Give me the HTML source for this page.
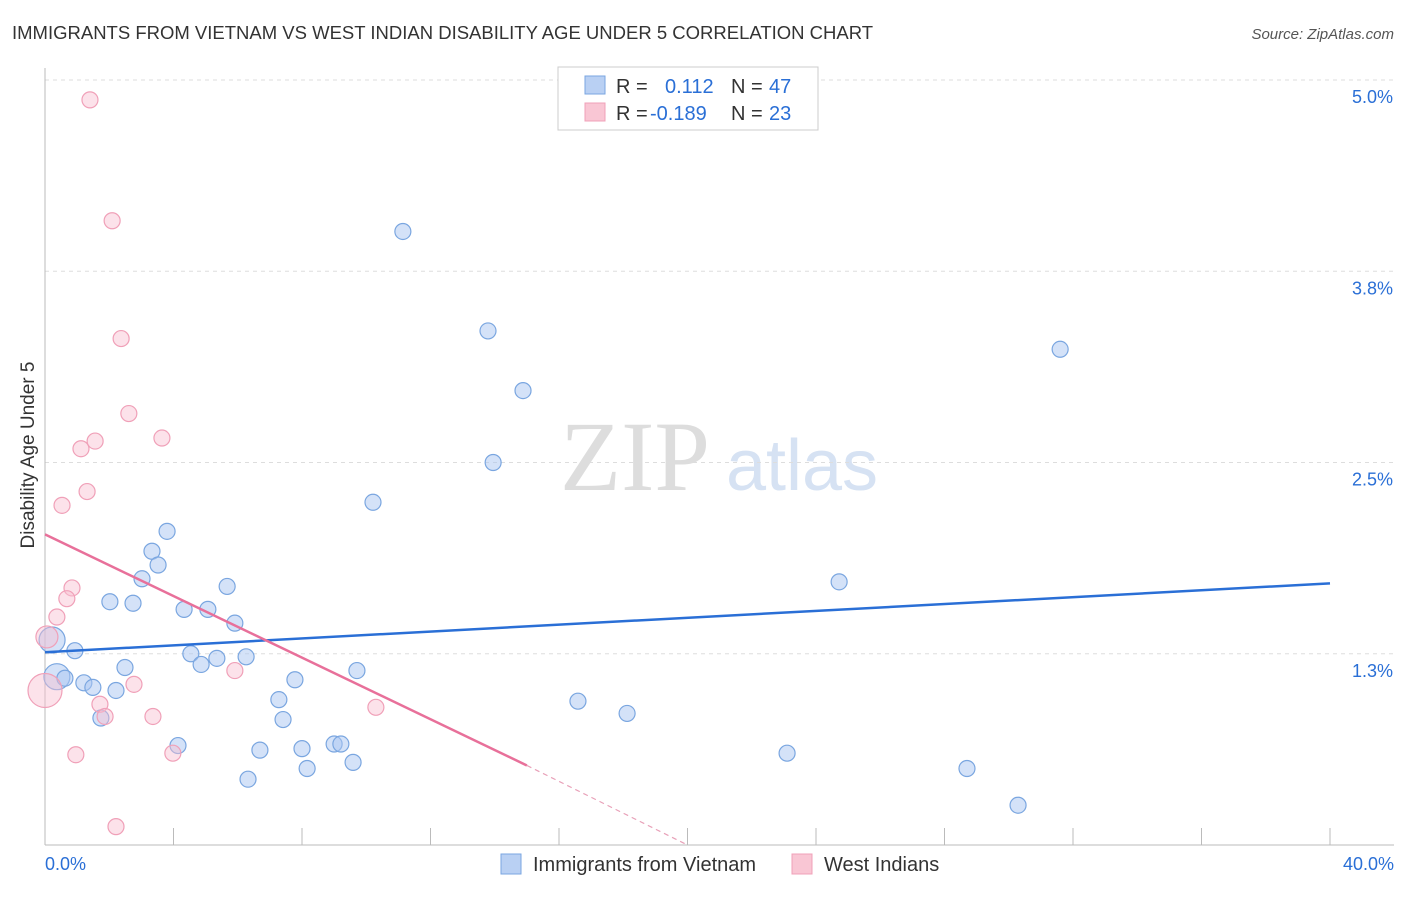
<!DOCTYPE html>
<html><head><meta charset="utf-8"><style>
body{margin:0;background:#fff;font-family:"Liberation Sans",sans-serif;}
</style></head><body>
<svg id="c" width="1406" height="892" font-family="Liberation Sans, sans-serif">
<text x="12" y="39" font-size="18.5" fill="#333">IMMIGRANTS FROM VIETNAM VS WEST INDIAN DISABILITY AGE UNDER 5 CORRELATION CHART</text>
<text x="1394" y="39" font-size="15" fill="#555" font-style="italic" text-anchor="end">Source: ZipAtlas.com</text>
<text transform="translate(34,455) rotate(-90)" font-size="19" fill="#333" text-anchor="middle">Disability Age Under 5</text>
<g><text x="635" y="490" font-size="100" fill="#ddd" style="font-family:'Liberation Serif',serif" text-anchor="middle">ZIP</text><text x="802" y="490" font-size="72" fill="#d6e2f3" text-anchor="middle">atlas</text></g>
<g id="grid"></g><g id="marks"></g>
<g>
<rect x="558" y="67" width="260" height="63" fill="#fff" stroke="#ccc"/>
<rect x="585" y="76" width="20" height="18" fill="#b9d0f3" stroke="#7aa6e0"/>
<rect x="585" y="103" width="20" height="18" fill="#f9c6d4" stroke="#f0a0b8"/>
<text x="616" y="93" font-size="20" fill="#333">R = <tspan x="665" fill="#2a6fd6">0.112</tspan><tspan x="731" fill="#333">N = </tspan><tspan x="769" fill="#2a6fd6">47</tspan></text>
<text x="616" y="120" font-size="20" fill="#333">R = <tspan x="650" fill="#2a6fd6">-0.189</tspan><tspan x="731" fill="#333">N = </tspan><tspan x="769" fill="#2a6fd6">23</tspan></text>
</g>
<g>
<rect x="501" y="854" width="20" height="20" fill="#b9d0f3" stroke="#7aa6e0"/>
<text x="533" y="871" font-size="20" fill="#333">Immigrants from Vietnam</text>
<rect x="792" y="854" width="20" height="20" fill="#f9c6d4" stroke="#f0a0b8"/>
<text x="824" y="871" font-size="20" fill="#333">West Indians</text>
</g>
</svg>
<script>
const yTicks=[1.25,2.5,3.75,5.0];
const yTickLabels=["1.3%","2.5%","3.8%","5.0%"];
const xTickLabels=["0.0%","40.0%"];
const blueX=[11.14,13.79,14.88,13.95,31.60,10.21,3.80,3.33,3.52,3.02,5.67,24.72,2.02,2.74,4.33,5.07,5.91,0.22,0.93,4.54,6.26,5.35,4.86,2.49,9.71,0.37,0.62,1.21,1.49,7.78,2.21,7.28,16.59,18.12,1.74,7.41,4.14,6.69,8.00,9.00,9.21,23.10,9.59,8.16,28.70,6.32,30.29];
const blueY=[4.01,3.36,2.97,2.50,3.24,2.24,2.05,1.92,1.83,1.74,1.69,1.72,1.59,1.58,1.54,1.54,1.45,1.34,1.27,1.25,1.23,1.22,1.18,1.16,1.14,1.10,1.09,1.06,1.03,1.08,1.01,0.95,0.94,0.86,0.83,0.82,0.65,0.62,0.63,0.66,0.66,0.60,0.54,0.50,0.50,0.43,0.26];
const blueR=[8,8,8,8,8,8,8,8,8,8,8,8,8,8,8,8,8,13,8,8,8,8,8,8,8,13,8,8,8,8,8,8,8,8,8,8,8,8,8,8,8,8,8,8,8,8,8];
const pinkX=[1.40,2.09,2.37,2.61,3.64,1.56,1.12,1.31,0.53,0.84,0.68,0.37,0.06,0.00,2.77,5.91,1.71,1.87,3.36,10.30,0.96,3.98,2.21];
const pinkY=[4.87,4.08,3.31,2.82,2.66,2.64,2.59,2.31,2.22,1.68,1.61,1.49,1.36,1.01,1.05,1.14,0.92,0.84,0.84,0.90,0.59,0.60,0.12];
const pinkR=[8,8,8,8,8,8,8,8,8,8,8,8,11,17,8,8,8,8,8,8,8,8,8];
const blueTrend=[1.26,1.71];
const pinkTrend=[2.03,0.52,15.0,20.0];
const X=v=>45+v/40*1285, Y=v=>845-v*153;
const NS="http://www.w3.org/2000/svg";
function mk(p,tag,a){const e=document.createElementNS(NS,tag);for(const k in a)e.setAttribute(k,a[k]);p.appendChild(e);return e;}
const g=document.getElementById('grid'), m=document.getElementById('marks');
yTicks.forEach((t,i)=>{
 const l=mk(g,'line',{x1:45,x2:1394,y1:Y(t),y2:Y(t),stroke:'#ddd','stroke-dasharray':'4,4'});
 
 
 const tx=mk(g,'text',{x:1393,y:Y(t)+23,'font-size':18,fill:'#2a6fd6','text-anchor':'end'});tx.textContent=yTickLabels[i];
 
 
});
const ax=mk(g,'line',{x1:45,x2:45,y1:68,y2:845,stroke:'#bbb'});


const bx=mk(g,'line',{x1:45,x2:1394,y1:845,y2:845,stroke:'#bbb'});


for(let i=0;i<=10;i++){const t=mk(g,'line',{x1:X(i*4),x2:X(i*4),y1:828,y2:845,stroke:'#bbb'});
 
 }
[[0,45,'start'],[40,1394,'end']].forEach((a,i)=>{const t=mk(g,'text',{x:a[1],y:870,'font-size':18,fill:'#2a6fd6','text-anchor':a[2]});t.textContent=xTickLabels[i];
 
 });
blueX.forEach((x,i)=>{const c=mk(m,'circle',{cx:X(x),cy:Y(blueY[i]),r:blueR[i],fill:'rgba(170,198,242,0.5)',stroke:'#7aa6e0','stroke-width':1.2});
 
 });
pinkX.forEach((x,i)=>{const c=mk(m,'circle',{cx:X(x),cy:Y(pinkY[i]),r:pinkR[i],fill:'rgba(248,190,208,0.45)',stroke:'#f0a0b8','stroke-width':1.2});
 
 });
const bl=mk(m,'line',{x1:X(0),y1:Y(blueTrend[0]),x2:X(40),y2:Y(blueTrend[1]),stroke:'#2a6fd6','stroke-width':2.5});


const pl=mk(m,'line',{x1:X(0),y1:Y(pinkTrend[0]),x2:X(pinkTrend[2]),y2:Y(pinkTrend[1]),stroke:'#e8709a','stroke-width':2.5});


const pd=mk(m,'line',{x1:X(pinkTrend[2]),y1:Y(pinkTrend[1]),x2:X(pinkTrend[3]),y2:Y(0),stroke:'#e8a0b8','stroke-width':1.2,'stroke-dasharray':'5,4'});


</script>
</body></html>
